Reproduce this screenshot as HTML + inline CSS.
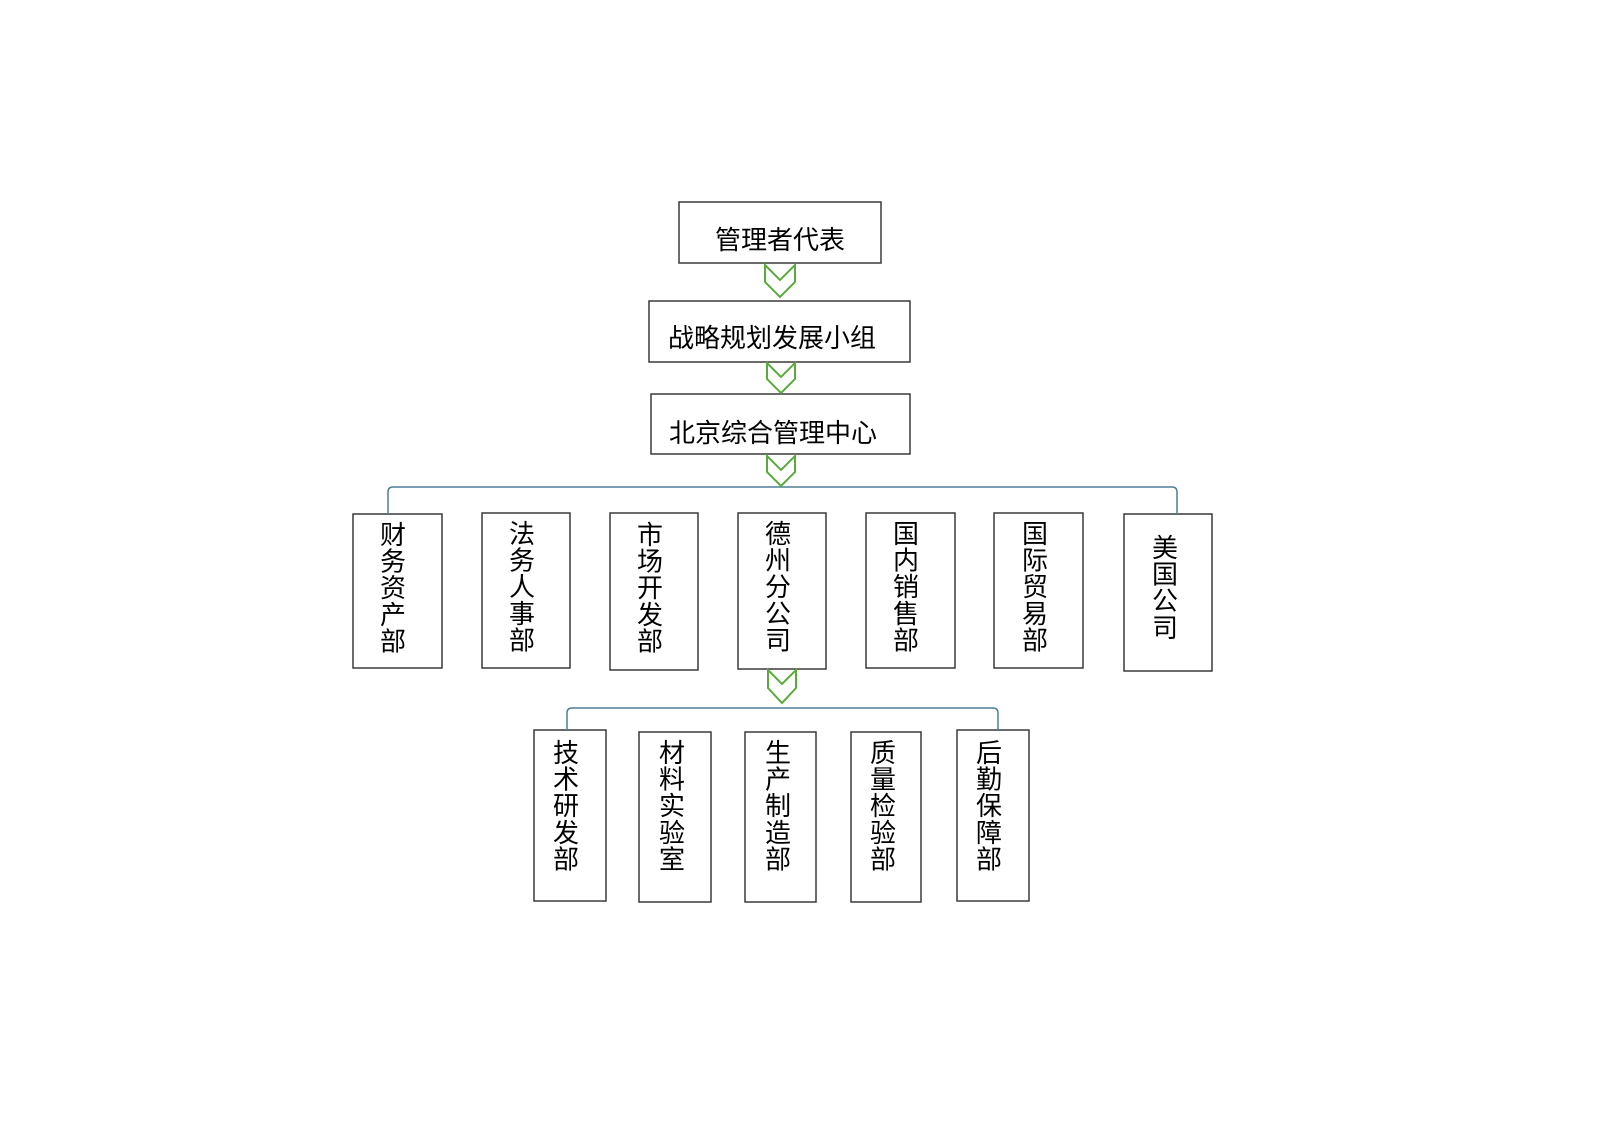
<!DOCTYPE html>
<html><head><meta charset="utf-8"><style>
html,body{margin:0;padding:0;background:#fff;}
svg{display:block;}
text{font-family:"Liberation Sans","Noto Sans CJK SC",sans-serif;font-size:26px;fill:#000;}
</style></head><body>
<svg width="1600" height="1131" viewBox="0 0 1600 1131" xmlns="http://www.w3.org/2000/svg">
<g fill="#fff" stroke="#3a3a3a" stroke-width="1.5">
<rect x="679" y="202" width="202" height="61"/>
<rect x="649" y="301" width="261" height="61"/>
<rect x="651" y="394" width="259" height="60"/>
<rect x="353" y="514" width="89" height="154"/>
<rect x="482" y="513" width="88" height="155"/>
<rect x="610" y="513" width="88" height="157"/>
<rect x="738" y="513" width="88" height="156"/>
<rect x="866" y="513" width="89" height="155"/>
<rect x="994" y="513" width="89" height="155"/>
<rect x="1124" y="514" width="88" height="157"/>
<rect x="534" y="730" width="72" height="171"/>
<rect x="639" y="732" width="72" height="170"/>
<rect x="745" y="732" width="71" height="170"/>
<rect x="851" y="732" width="70" height="170"/>
<rect x="957" y="730" width="72" height="171"/>
</g>
<g fill="none" stroke="#4f7f99" stroke-width="1.5">
<path d="M388 514 V492 Q388 487 393 487 H1172 Q1177 487 1177 492 V514"/>
<path d="M567 730 V713 Q567 708 572 708 H993 Q998 708 998 713 V730"/>
</g>
<g fill="#fff" stroke="#5aab3c" stroke-width="2">
<polygon points="765,265 780,280 795,265 795,282 780,297 765,282"/>
<polygon points="767,363 781,377 795,363 795,379 781,393 767,379"/>
<polygon points="767,456 781,470 795,456 795,472 781,486 767,472"/>
<polygon points="768,670 782,684 796,670 796,688 782,703 768,688"/>
</g>
<text x="780" y="249" text-anchor="middle">管理者代表</text>
<text x="772" y="347" text-anchor="middle">战略规划发展小组</text>
<text x="773" y="442" text-anchor="middle">北京综合管理中心</text>
<g text-anchor="middle">
<text x="393"><tspan x="393" y="544">财</tspan><tspan x="393" dy="26.6">务</tspan><tspan x="393" dy="26.6">资</tspan><tspan x="393" dy="26.6">产</tspan><tspan x="393" dy="26.6">部</tspan></text>
<text><tspan x="522" y="543">法</tspan><tspan x="522" dy="26.6">务</tspan><tspan x="522" dy="26.6">人</tspan><tspan x="522" dy="26.6">事</tspan><tspan x="522" dy="26.6">部</tspan></text>
<text><tspan x="650" y="544">市</tspan><tspan x="650" dy="26.6">场</tspan><tspan x="650" dy="26.6">开</tspan><tspan x="650" dy="26.6">发</tspan><tspan x="650" dy="26.6">部</tspan></text>
<text><tspan x="778" y="543">德</tspan><tspan x="778" dy="26.6">州</tspan><tspan x="778" dy="26.6">分</tspan><tspan x="778" dy="26.6">公</tspan><tspan x="778" dy="26.6">司</tspan></text>
<text><tspan x="906" y="543">国</tspan><tspan x="906" dy="26.6">内</tspan><tspan x="906" dy="26.6">销</tspan><tspan x="906" dy="26.6">售</tspan><tspan x="906" dy="26.6">部</tspan></text>
<text><tspan x="1035" y="543">国</tspan><tspan x="1035" dy="26.6">际</tspan><tspan x="1035" dy="26.6">贸</tspan><tspan x="1035" dy="26.6">易</tspan><tspan x="1035" dy="26.6">部</tspan></text>
<text><tspan x="1165" y="557">美</tspan><tspan x="1165" dy="26.6">国</tspan><tspan x="1165" dy="26.6">公</tspan><tspan x="1165" dy="26.6">司</tspan></text>
<text><tspan x="566" y="762">技</tspan><tspan x="566" dy="26.6">术</tspan><tspan x="566" dy="26.6">研</tspan><tspan x="566" dy="26.6">发</tspan><tspan x="566" dy="26.6">部</tspan></text>
<text><tspan x="672" y="762">材</tspan><tspan x="672" dy="26.6">料</tspan><tspan x="672" dy="26.6">实</tspan><tspan x="672" dy="26.6">验</tspan><tspan x="672" dy="26.6">室</tspan></text>
<text><tspan x="778" y="762">生</tspan><tspan x="778" dy="26.6">产</tspan><tspan x="778" dy="26.6">制</tspan><tspan x="778" dy="26.6">造</tspan><tspan x="778" dy="26.6">部</tspan></text>
<text><tspan x="883" y="762">质</tspan><tspan x="883" dy="26.6">量</tspan><tspan x="883" dy="26.6">检</tspan><tspan x="883" dy="26.6">验</tspan><tspan x="883" dy="26.6">部</tspan></text>
<text><tspan x="989" y="762">后</tspan><tspan x="989" dy="26.6">勤</tspan><tspan x="989" dy="26.6">保</tspan><tspan x="989" dy="26.6">障</tspan><tspan x="989" dy="26.6">部</tspan></text>
</g>
</svg>
</body></html>
